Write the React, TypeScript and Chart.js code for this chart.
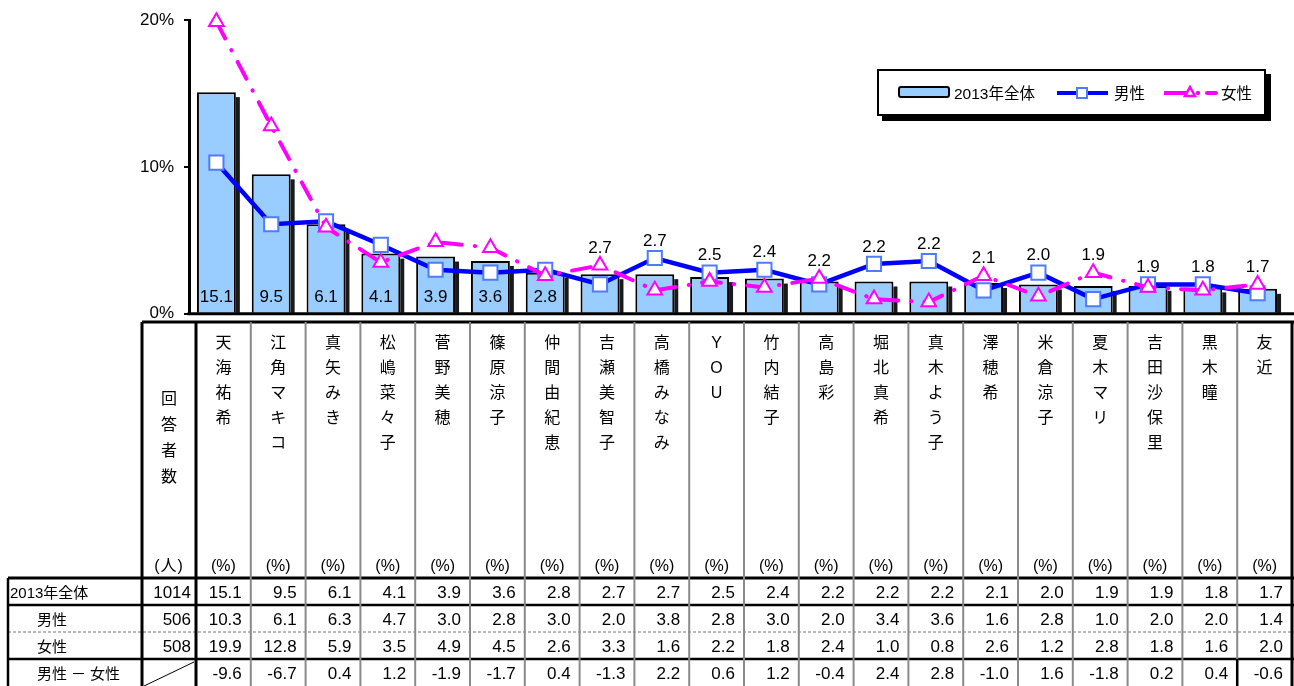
import React, { useEffect, useRef } from "react";
import { Chart, registerables } from "chart.js";

Chart.register(...registerables);

// ---- data ----
const names = [
  "天海祐希", "江角マキコ", "真矢みき", "松嶋菜々子", "菅野美穂", "篠原涼子", "仲間由紀恵",
  "吉瀬美智子", "高橋みなみ", "YOU", "竹内結子", "高島彩", "堀北真希", "真木よう子",
  "澤穂希", "米倉涼子", "夏木マリ", "吉田沙保里", "黒木瞳", "友近",
];
const total = [15.1, 9.5, 6.1, 4.1, 3.9, 3.6, 2.8, 2.7, 2.7, 2.5, 2.4, 2.2, 2.2, 2.2, 2.1, 2.0, 1.9, 1.9, 1.8, 1.7];
const male = [10.3, 6.1, 6.3, 4.7, 3.0, 2.8, 3.0, 2.0, 3.8, 2.8, 3.0, 2.0, 3.4, 3.6, 1.6, 2.8, 1.0, 2.0, 2.0, 1.4];
const female = [19.9, 12.8, 5.9, 3.5, 4.9, 4.5, 2.6, 3.3, 1.6, 2.2, 1.8, 2.4, 1.0, 0.8, 2.6, 1.2, 2.8, 1.8, 1.6, 2.0];
const diff = [-9.6, -6.7, 0.4, 1.2, -1.9, -1.7, 0.4, -1.3, 2.2, 0.6, 1.2, -0.4, 2.4, 2.8, -1.0, 1.6, -1.8, 0.2, 0.4, -0.6];
const rowLabels = ["2013年全体", "男性", "女性", "男性－女性"];
const counts = ["1014", "506", "508", ""];
const yTicks = [0, 10, 20];
const seriesLabels = ["2013年全体", "男性", "女性"];

// ---- styles ----
const FONT = "'Liberation Sans', 'Noto Sans CJK JP', sans-serif";
const BAR_FILL = "#99CCFF";
const MALE = "#0000FF";
const MALE_MARK = "#4F7BFF";
const FEMALE = "#FF00FF";
const INSIDE_MIN = 2.8;

const COL0 = 196;
const COLW = 54.8;
const NCOL = 20;
const colLeft = (k: number) => COL0 + COLW * k;
const ROWS = [578, 605, 632, 659, 686];

const barShadow = {
  id: "barShadow",
  beforeDatasetDraw(chart: any, args: any) {
    if (args.index !== 0) return;
    const ctx = chart.ctx;
    const meta = chart.getDatasetMeta(0);
    ctx.save();
    ctx.fillStyle = "#1a1a1a";
    meta.data.forEach((b: any) => {
      const right = b.x + b.width / 2;
      ctx.fillRect(right, b.y + 5, 4, b.base - b.y - 5);
    });
    ctx.restore();
  },
};

const baseline = {
  id: "baseline",
  afterDatasetsDraw(chart: any) {
    const ctx = chart.ctx;
    const y = chart.scales.y.getPixelForValue(0);
    ctx.save();
    ctx.strokeStyle = "#000";
    ctx.lineWidth = 3;
    ctx.beginPath();
    ctx.moveTo(chart.chartArea.left - 1.5, y);
    ctx.lineTo(chart.width, y);
    ctx.stroke();
    ctx.restore();
  },
};

const barLabels = {
  id: "barLabels",
  afterDraw(chart: any) {
    const ctx = chart.ctx;
    const meta = chart.getDatasetMeta(0);
    const ys = chart.scales.y;
    ctx.save();
    ctx.fillStyle = "#000";
    ctx.font = "17px " + FONT;
    ctx.textAlign = "center";
    ctx.textBaseline = "middle";
    meta.data.forEach((b: any, i: number) => {
      const v = total[i];
      let y;
      if (v >= INSIDE_MIN) {
        y = b.base - 15;
      } else {
        y = ys.getPixelForValue(Math.max(v, male[i], female[i])) - 17;
      }
      ctx.fillText(v.toFixed(1), b.x, y);
    });
    ctx.restore();
  },
};

function Legend() {
  const ox = 879;
  const txt = (left: number, s: string) => (
    <div style={{ position: "absolute", left: left - ox, top: 13, height: 20, lineHeight: "20px", fontSize: 15.5, fontFamily: FONT, whiteSpace: "nowrap", color: "#000" }}>{s}</div>
  );
  return (
    <div style={{ position: "absolute", left: 877, top: 69, width: 389, height: 47, boxSizing: "border-box", border: "2px solid #000", background: "#fff", boxShadow: "5px 5px 0 #000" }}>
      <svg width={385} height={43} style={{ position: "absolute", left: 0, top: 0 }}>
        <rect x={20} y={16} width={50} height={10} rx={2} fill={BAR_FILL} stroke="#000" strokeWidth={2} />
        <line x1={178} y1={22} x2={229} y2={22} stroke={MALE} strokeWidth={4} />
        <rect x={198} y={17} width={10} height={10} fill="#fff" stroke={MALE_MARK} strokeWidth={2} />
        <line x1={285} y1={22} x2={307} y2={22} stroke={FEMALE} strokeWidth={4} />
        <polygon points="311,16 316,25 306,25" fill="#fff" stroke={FEMALE} strokeWidth={2.5} />
        <circle cx={319} cy={22} r={2.2} fill={FEMALE} />
        <line x1={328} y1={22} x2={337} y2={22} stroke={FEMALE} strokeWidth={4} strokeLinecap="round" />
      </svg>
      {txt(954, seriesLabels[0])}
      {txt(1114, seriesLabels[1])}
      {txt(1221, seriesLabels[2])}
    </div>
  );
}

function RowLabel({ text }: { text: string }) {
  const idx = text.indexOf("－");
  if (idx < 0) return <>{text}</>;
  return (
    <>
      {text.slice(0, idx)}
      <span style={{ margin: "0 4px" }}>{"－"}</span>
      {text.slice(idx + 1)}
    </>
  );
}

function Table() {
  const rowsData = [total, male, female, diff];
  const lines: any[] = [];
  lines.push(<line key="h0" x1={142} y1={322} x2={1294} y2={322} stroke="#000" strokeWidth={3} />);
  lines.push(<line key="h1" x1={8} y1={ROWS[0]} x2={1294} y2={ROWS[0]} stroke="#000" strokeWidth={3} />);
  lines.push(<line key="h2" x1={8} y1={ROWS[1]} x2={1294} y2={ROWS[1]} stroke="#000" strokeWidth={2.5} />);
  lines.push(<line key="h3" x1={8} y1={ROWS[2]} x2={1294} y2={ROWS[2]} stroke="#777" strokeWidth={1} strokeDasharray="3 2" />);
  lines.push(<line key="h4" x1={8} y1={ROWS[3]} x2={1294} y2={ROWS[3]} stroke="#000" strokeWidth={2.5} />);
  for (let k = 1; k < NCOL; k++) {
    const x = colLeft(k);
    lines.push(<line key={"v" + k} x1={x} y1={322} x2={x} y2={686} stroke="#8a8a8a" strokeWidth={2} />);
  }
  lines.push(<line key="vl0" x1={8} y1={ROWS[0]} x2={8} y2={686} stroke="#000" strokeWidth={2.5} />);
  lines.push(<line key="vl1" x1={142} y1={322} x2={142} y2={686} stroke="#000" strokeWidth={3} />);
  lines.push(<line key="vl2" x1={196} y1={322} x2={196} y2={686} stroke="#000" strokeWidth={3} />);
  lines.push(<line key="vl3" x1={1292} y1={322} x2={1292} y2={686} stroke="#000" strokeWidth={3} />);
  lines.push(<line key="vl4" x1={colLeft(19)} y1={ROWS[3]} x2={colLeft(19)} y2={686} stroke="#000" strokeWidth={2.5} />);
  lines.push(<line key="diag" x1={144} y1={686} x2={194} y2={662} stroke="#000" strokeWidth={1} />);

  const cells: any[] = [];
  names.forEach((n, k) => {
    cells.push(
      <div key={"n" + k} style={{ position: "absolute", left: colLeft(k), top: 330, width: COLW, textAlign: "center", fontSize: 16, fontFamily: FONT, color: "#000" }}>
        {Array.from(n).map((c, j) => (
          <div key={j} style={{ height: 25, lineHeight: "25px" }}>{c}</div>
        ))}
      </div>
    );
    cells.push(
      <div key={"p" + k} style={{ position: "absolute", left: colLeft(k), top: 556, width: COLW, height: 20, lineHeight: "20px", textAlign: "center", fontSize: 16, fontFamily: FONT }}>(%)</div>
    );
  });
  cells.push(
    <div key="ans" style={{ position: "absolute", left: 142, top: 386, width: 54, textAlign: "center", fontSize: 16, fontFamily: FONT }}>
      {Array.from("回答者数").map((c, j) => (
        <div key={j} style={{ height: 26, lineHeight: "26px" }}>{c}</div>
      ))}
    </div>
  );
  cells.push(
    <div key="nin" style={{ position: "absolute", left: 142, top: 556, width: 54, height: 20, lineHeight: "20px", textAlign: "center", fontSize: 16, fontFamily: FONT, letterSpacing: 1 }}>(人)</div>
  );
  rowLabels.forEach((lab, r) => {
    const top = ROWS[r];
    cells.push(
      <div key={"rl" + r} style={{ position: "absolute", left: r === 0 ? 10 : 37, top: top + 1, height: 27, lineHeight: "27px", fontSize: 15, fontFamily: FONT, whiteSpace: "nowrap" }}><RowLabel text={lab} /></div>
    );
    cells.push(
      <div key={"c" + r} style={{ position: "absolute", left: 142, top: top + 1, width: 54, height: 27, lineHeight: "27px", textAlign: "right", paddingRight: 5, boxSizing: "border-box", fontSize: 17, fontFamily: FONT }}>{counts[r]}</div>
    );
    rowsData[r].forEach((v, k) => {
      cells.push(
        <div key={"d" + r + "_" + k} style={{ position: "absolute", left: colLeft(k), top: top + 1, width: COLW, height: 27, lineHeight: "27px", textAlign: "right", paddingRight: 9, boxSizing: "border-box", fontSize: 17, fontFamily: FONT }}>{v.toFixed(1)}</div>
      );
    });
  });

  return (
    <>
      <svg width={1294} height={686} style={{ position: "absolute", left: 0, top: 0 }}>{lines}</svg>
      {cells}
    </>
  );
}

export default function App() {
  const ref = useRef<HTMLCanvasElement>(null);
  useEffect(() => {
    const chart = new Chart(ref.current as HTMLCanvasElement, {
      type: "bar",
      data: {
        labels: names,
        datasets: [
          {
            type: "bar",
            label: seriesLabels[0],
            data: total,
            backgroundColor: BAR_FILL,
            borderColor: "#000",
            borderWidth: 2,
            barPercentage: 0.71,
            categoryPercentage: 1,
            order: 3,
          } as any,
          {
            type: "line",
            label: seriesLabels[1],
            data: male,
            borderColor: MALE,
            borderWidth: 4.5,
            pointStyle: "rect",
            pointRadius: 10,
            pointBackgroundColor: "#fff",
            pointBorderColor: MALE_MARK,
            pointBorderWidth: 2,
            tension: 0,
            clip: false,
            order: 2,
          } as any,
          {
            type: "line",
            label: seriesLabels[2],
            data: female,
            borderColor: FEMALE,
            borderWidth: 4,
            borderDash: [19, 13, 0.5, 13],
            borderCapStyle: "round",
            pointStyle: "triangle",
            pointRadius: 8.5,
            pointBackgroundColor: "#fff",
            pointBorderColor: FEMALE,
            pointBorderWidth: 2,
            tension: 0,
            clip: false,
            order: 1,
          } as any,
        ],
      },
      options: {
        animation: false,
        responsive: false,
        maintainAspectRatio: false,
        layout: { autoPadding: false, padding: { top: 18, right: 9, bottom: 8, left: 0 } },
        plugins: { legend: { display: false }, tooltip: { enabled: false } },
        scales: {
          x: { display: false, offset: true },
          y: {
            min: 0,
            max: 20,
            afterFit: (s: any) => { s.width = 189; },
            afterBuildTicks: (s: any) => { s.ticks = yTicks.map((v) => ({ value: v })); },
            ticks: {
              callback: (v: any) => v + "%",
              color: "#000",
              font: { family: "'Liberation Sans'", size: 17 },
              padding: 10,
            },
            grid: { drawOnChartArea: false, drawTicks: true, tickLength: 5, color: "#000", lineWidth: 2 },
            border: { color: "#000", width: 3 },
          },
        },
      } as any,
      plugins: [barShadow, baseline, barLabels],
    });
    return () => chart.destroy();
  }, []);

  return (
    <div style={{ position: "absolute", left: 0, top: 0, width: 1294, height: 686, overflow: "hidden", background: "#fff", fontFamily: FONT, color: "#000" }}>
      <canvas ref={ref} width={1294} height={334} style={{ position: "absolute", left: 0, top: 0, width: 1294, height: 334 }} />
      <Table />
      <Legend />
    </div>
  );
}
